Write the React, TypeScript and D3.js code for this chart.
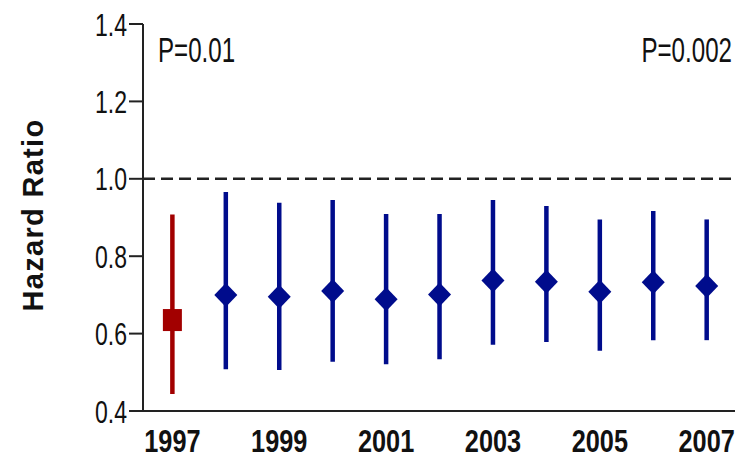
import React from 'react'
import * as d3 from 'd3'

const years = [1997, 1998, 1999, 2000, 2001, 2002, 2003, 2004, 2005, 2006, 2007]
const hr = [0.635, 0.70, 0.695, 0.71, 0.689, 0.701, 0.737, 0.734, 0.708, 0.733, 0.723]
const lower = [0.444, 0.508, 0.506, 0.527, 0.521, 0.534, 0.571, 0.578, 0.556, 0.583, 0.583]
const upper = [0.908, 0.966, 0.938, 0.945, 0.909, 0.909, 0.945, 0.930, 0.895, 0.917, 0.895]
const yTicks = [0.4, 0.6, 0.8, 1.0, 1.2, 1.4]
const yearLabels = [1997, 1999, 2001, 2003, 2005, 2007]
const pLeft = 'P=0.01'
const pRight = 'P=0.002'

const width = 751
const height = 459
const blue = '#000c8c'
const red = '#a20000'
const font = "'Liberation Sans', Arial, sans-serif"

function App() {
  const x = d3.scaleLinear().domain([1996.45, 2007.53]).range([143, 735])
  const y = d3.scaleLinear().domain([0.4, 1.4]).range([411, 24])

  const diamond = (cx: number, cy: number) =>
    `M${cx},${cy - 12}L${cx + 11.5},${cy}L${cx},${cy + 12}L${cx - 11.5},${cy}Z`

  return (
    <svg width={width} height={height} style={{ position: 'absolute', left: 0, top: 0 }}>
      <rect width={width} height={height} fill="#fff" />

      {/* y label */}
      <text
        transform={`translate(43,215) rotate(-90)`}
        textAnchor="middle"
        fontFamily={font}
        fontWeight="bold"
        fontSize={29}
        letterSpacing={1.3}
        fill="#111"
      >
        Hazard Ratio
      </text>

      {/* reference line */}
      <line x1={143} x2={735} y1={y(1.0)} y2={y(1.0)} stroke="#222" strokeWidth={2.5} strokeDasharray="12,6" />

      {/* error bars */}
      {years.map((yr, i) => (
        <line
          key={`e${yr}`}
          x1={x(yr)}
          x2={x(yr)}
          y1={y(lower[i])}
          y2={y(upper[i])}
          stroke={i === 0 ? red : blue}
          strokeWidth={4.5}
        />
      ))}
      {years.map((yr, i) =>
        i === 0 ? (
          <rect key={`m${yr}`} x={x(yr) - 9.5} y={y(hr[i]) - 11} width={19} height={22} fill={red} />
        ) : (
          <path key={`m${yr}`} d={diamond(x(yr), y(hr[i]))} fill={blue} />
        )
      )}

      {/* axes */}
      <line x1={143} x2={143} y1={y(1.4)} y2={y(0.4)} stroke="#222" strokeWidth={2} />
      <line x1={129} x2={735} y1={y(0.4)} y2={y(0.4)} stroke="#222" strokeWidth={2} />
      {yTicks.map(t => (
        <g key={t}>
          <line x1={129} x2={143} y1={y(t)} y2={y(t)} stroke="#222" strokeWidth={2} />
          <text
            transform={`translate(127,${y(t) + 11.5}) scale(0.72,1)`}
            textAnchor="end"
            fontFamily={font}
            fontSize={32}
            fill="#111"
          >
            {t.toFixed(1)}
          </text>
        </g>
      ))}
      {yearLabels.map(yr => (
        <text
          key={yr}
          transform={`translate(${x(yr)},452) scale(0.83,1)`}
          textAnchor="middle"
          fontFamily={font}
          fontWeight="bold"
          fontSize={30.5}
          fill="#111"
        >
          {yr}
        </text>
      ))}

      {/* p-values */}
      <text transform="translate(158,62) scale(0.69,1)" fontFamily={font} fontSize={35} fill="#111">
        {pLeft}
      </text>
      <text transform="translate(732,62) scale(0.69,1)" textAnchor="end" fontFamily={font} fontSize={35} fill="#111">
        {pRight}
      </text>
    </svg>
  )
}

export default App
